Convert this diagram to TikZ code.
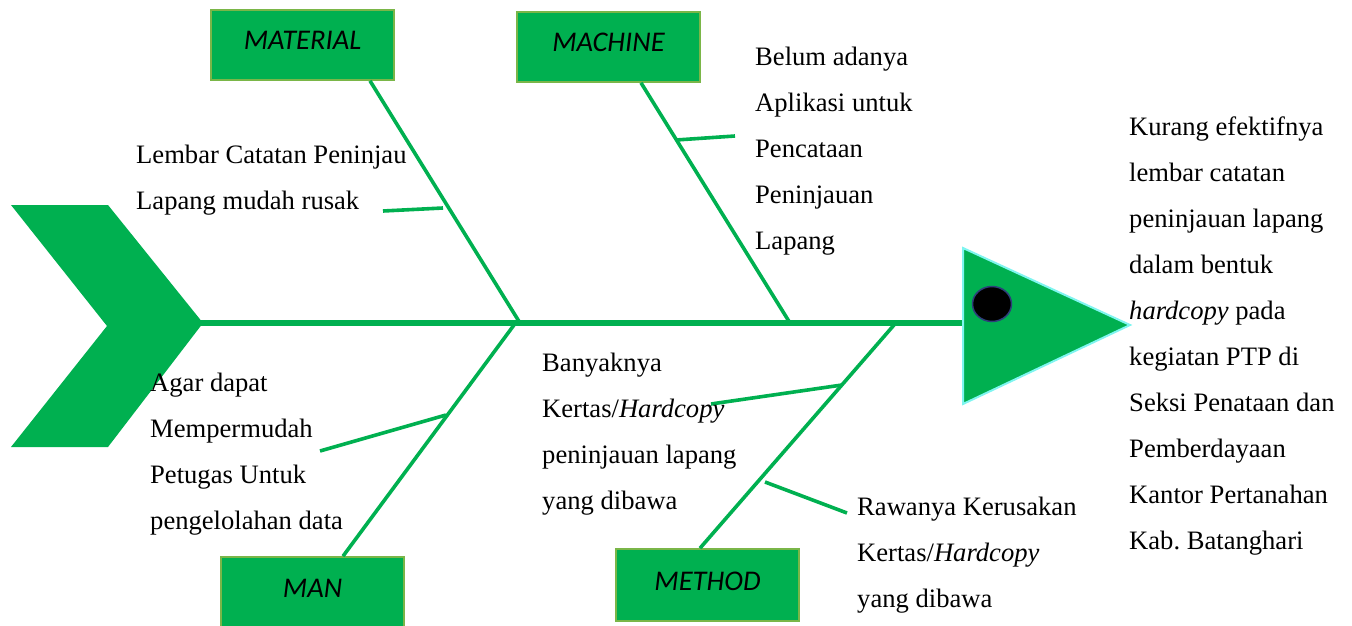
\documentclass[tikz,border=0pt]{standalone}
\usepackage{fontspec}
\setmainfont{Liberation Serif}
\newfontfamily\calibri{Carlito}
\frenchspacing
\definecolor{fishgreen}{HTML}{00B050}
\definecolor{boxedge}{HTML}{7AB648}
\definecolor{headedge}{HTML}{7FF5F0}
\definecolor{eyeedge}{HTML}{2E3F7A}
\tikzset{
  catbox/.style={draw=boxedge, line width=1.6pt, fill=fishgreen, minimum width=183pt, minimum height=70pt, inner sep=0pt, font=\calibri\itshape\fontsize{28.5}{32}\selectfont, text height=18pt, text depth=8pt},
  bone/.style={draw=fishgreen, line width=3.6pt},
  twig/.style={draw=fishgreen, line width=3.6pt},
  spine/.style={draw=fishgreen, line width=6.5pt},
  cause/.style={anchor=north west, inner sep=0pt, align=left, font=\fontsize{26.6}{46}\selectfont},
}
\begin{document}
\begin{tikzpicture}[x=1pt,y=-1pt]
\useasboundingbox (0,0) rectangle (1352,626);
% tail
\fill[fishgreen] (11,205) -- (108,205) -- (203,323) -- (108,447) -- (11,447) -- (107,326) -- cycle;
\coordinate (tail) at (200,323);
% head
\filldraw[fill=fishgreen, draw=headedge, line width=2pt] (963,248) -- (1130,325) -- (963,404) -- cycle;
\coordinate (head) at (962,323);
\filldraw[fill=black, draw=eyeedge, line width=1.5pt] (992,304) ellipse [x radius=19.5, y radius=17.5];
% spine
\draw[spine] (tail) -- (head);
% category boxes
\node[catbox] (material) at (302.5,45) {MATERIAL};
\node[catbox] (machine) at (608.5,47) {MACHINE};
\node[catbox] (man) at (312.5,592) {MAN};
\node[catbox, minimum height=72pt] (method) at (707.5,585) {METHOD};
% joints on spine
\coordinate (jmat) at (520,323);
\coordinate (jmac) at (790,323);
\coordinate (jman) at (514,325);
\coordinate (jmet) at (894,325);
% bones
\draw[bone] (material.south -| 370,0) -- (jmat);
\draw[bone] (machine.south -| 641,0) -- (jmac);
\draw[bone] (man.north -| 343,0) -- (jman);
\draw[bone] (method.north -| 700,0) -- (jmet);
% twigs
\coordinate (tmat) at (443,208);
\coordinate (tmatend) at (383,211);
\draw[twig] (tmat) -- (tmatend);
\coordinate (tmac) at (676,140);
\coordinate (tmacend) at (735,136);
\draw[twig] (tmac) -- (tmacend);
\coordinate (tman) at (446,415);
\coordinate (tmanend) at (320,451);
\draw[twig] (tman) -- (tmanend);
\coordinate (tmet) at (842,385);
\coordinate (tmetend) at (711,404);
\draw[twig] (tmet) -- (tmetend);
\coordinate (tmetb) at (765,482);
\coordinate (tmetbend) at (847,513);
\draw[twig] (tmetb) -- (tmetbend);
% cause texts
\node[cause] (cmat) at (136,145) {Lembar Catatan Peninjau\\Lapang mudah rusak};
\node[cause] (cmac) at (755,47) {Belum adanya\\Aplikasi untuk\\Pencataan\\Peninjauan\\Lapang};
\node[cause] (cman) at (150,373) {Agar dapat\\Mempermudah\\Petugas Untuk\\pengelolahan data};
\node[cause] (cmeta) at (542,353) {Banyaknya\\Kertas/\textit{Hardcopy}\\peninjauan lapang\\yang dibawa};
\node[cause] (cmetb) at (857,497) {Rawanya Kerusakan\\Kertas/\textit{Hardcopy}\\yang dibawa};
\node[cause] (effect) at (1129,117) {Kurang efektifnya\\lembar catatan\\peninjauan lapang\\dalam bentuk\\\textit{hardcopy} pada\\kegiatan PTP di\\Seksi Penataan dan\\Pemberdayaan\\Kantor Pertanahan\\Kab. Batanghari};
\end{tikzpicture}
\end{document}
